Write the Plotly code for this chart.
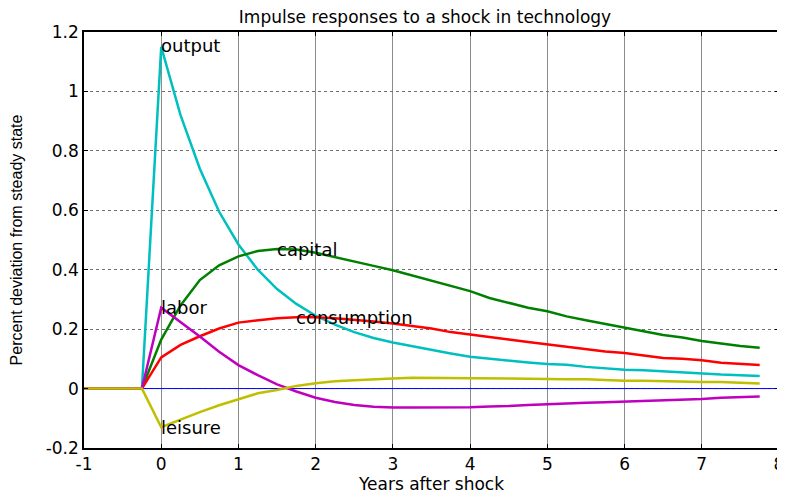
import plotly.graph_objects as go

quarters = [-1, -0.75, -0.5, -0.25] + [i * 0.25 for i in range(32)]
pre = [0, 0, 0, 0]

output = pre + [1.15, 0.92, 0.74, 0.595, 0.485, 0.40, 0.335, 0.285, 0.245, 0.215, 0.19, 0.17,
                0.155, 0.142, 0.13, 0.118, 0.107, 0.1, 0.095, 0.088, 0.083, 0.08, 0.073, 0.068,
                0.063, 0.062, 0.058, 0.055, 0.052, 0.047, 0.045, 0.042]
capital = pre + [0.165, 0.28, 0.365, 0.415, 0.445, 0.463, 0.47, 0.468, 0.457, 0.443, 0.428, 0.413,
                 0.398, 0.38, 0.362, 0.345, 0.328, 0.305, 0.288, 0.272, 0.26, 0.243, 0.23, 0.218,
                 0.205, 0.193, 0.18, 0.172, 0.16, 0.152, 0.143, 0.137]
consumption = pre + [0.105, 0.147, 0.176, 0.202, 0.222, 0.23, 0.237, 0.24, 0.24, 0.237, 0.232, 0.226,
                     0.219, 0.21, 0.202, 0.19, 0.181, 0.173, 0.165, 0.157, 0.149, 0.141, 0.133, 0.125,
                     0.12, 0.111, 0.103, 0.1, 0.095, 0.087, 0.082, 0.079]
labor = pre + [0.272, 0.225, 0.175, 0.124, 0.079, 0.045, 0.014, -0.01, -0.031, -0.045, -0.055, -0.061,
               -0.064, -0.064, -0.064, -0.064, -0.063, -0.06, -0.059, -0.055, -0.052, -0.051, -0.048, -0.046,
               -0.044, -0.04, -0.039, -0.036, -0.035, -0.031, -0.029, -0.027]
leisure = pre + [-0.13, -0.104, -0.079, -0.056, -0.036, -0.016, -0.005, 0.009, 0.018, 0.025, 0.028, 0.032,
                 0.034, 0.036, 0.036, 0.036, 0.034, 0.034, 0.034, 0.033, 0.031, 0.031, 0.031, 0.028,
                 0.026, 0.026, 0.024, 0.023, 0.022, 0.022, 0.019, 0.017]

zero_x = [-1, 8]
zero_y = [0, 0]

labels = ["output", "capital", "consumption", "labor", "leisure"]
label_x = [0, 1.5, 1.75, 0, 0]
label_y = [1.155, 0.468, 0.24, 0.272, -0.13]

x_ticks = [-1, 0, 1, 2, 3, 4, 5, 6, 7, 8]
x_tick_text = ["-1", "0", "1", "2", "3", "4", "5", "6", "7", "8"]
y_ticks = [-0.2, 0, 0.2, 0.4, 0.6, 0.8, 1.0, 1.2]
y_tick_text = ["-0.2", "0", "0.2", "0.4", "0.6", "0.8", "1", "1.2"]

fig = go.Figure()
fig.add_trace(go.Scatter(x=zero_x, y=zero_y, mode="lines", line=dict(color="#0000FF", width=1)))
series = [(output, "#00BFBF"), (capital, "#008000"), (consumption, "#FF0000"),
          (labor, "#BF00BF"), (leisure, "#BFBF00")]
for ys, col in series:
    fig.add_trace(go.Scatter(x=quarters, y=ys, mode="lines", line=dict(color=col, width=2.5)))

label_font = dict(family="DejaVu Sans, sans-serif", size=18, color="black")
for t, lx, ly in zip(labels, label_x, label_y):
    fig.add_annotation(x=lx, y=ly, text=t, showarrow=False, xanchor="left", yanchor="middle",
                       xshift=-2, font=label_font)

tick_font = dict(family="DejaVu Sans, sans-serif", size=17, color="black")
W, H = 777, 487
fig.update_layout(
    width=W, height=H,
    margin=dict(l=76, r=6, t=24, b=47, autoexpand=False),
    paper_bgcolor="white", plot_bgcolor="white",
    showlegend=False,
    title=dict(text="Impulse responses to a shock in technology", x=417 / W, xanchor="center",
               y=1 - 9 / H, yanchor="middle",
               font=dict(family="DejaVu Sans, sans-serif", size=17, color="black")),
    xaxis=dict(range=[-1, 8], tickvals=x_ticks, ticktext=x_tick_text, showgrid=True,
               gridcolor="#8c8c8c", gridwidth=1, automargin=False,
               showline=True, linecolor="black", linewidth=1.5, mirror="allticks",
               ticks="inside", ticklen=4, tickcolor="black", tickfont=tick_font, zeroline=False,
               title=dict(text="Years after shock", standoff=2,
                          font=dict(family="DejaVu Sans, sans-serif", size=17, color="black"))),
    yaxis=dict(range=[-0.2, 1.2], tickvals=y_ticks, ticktext=y_tick_text, showgrid=True,
               gridcolor="#707070", gridwidth=1, griddash="dot", automargin=False,
               showline=True, linecolor="black", linewidth=1.5, mirror="allticks",
               ticks="inside", ticklen=4, tickcolor="black", tickfont=tick_font, zeroline=False,
               title=dict(text="Percent deviation from steady state", standoff=26,
                          font=dict(family="Liberation Sans, Arial, sans-serif", size=16,
                                    color="black"))),
)
fig.write_html("out.html")
